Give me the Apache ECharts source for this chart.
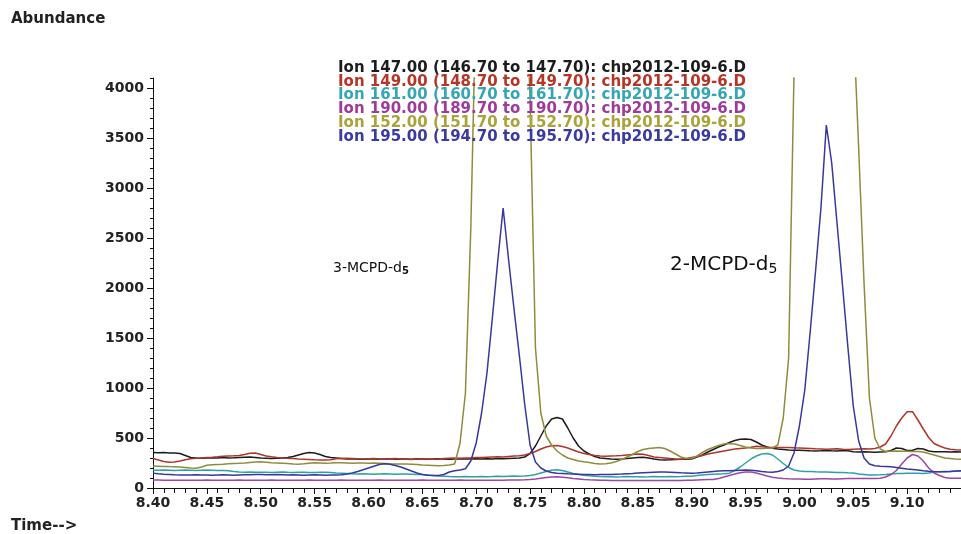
<!DOCTYPE html>
<html>
<head>
<meta charset="utf-8">
<script src="https://cdn.jsdelivr.net/npm/echarts@6/dist/echarts.min.js"></script>
<style>
html,body{margin:0;padding:0;background:#ffffff;}
#chart{width:961px;height:534px;}
</style>
</head>
<body>
<div id="chart"></div>
<script>
// Retention time (min) sampling grid
const TIME = [
8.400,8.405,8.410,8.415,8.420,8.425,8.430,8.435,8.440,8.445,
8.450,8.455,8.460,8.465,8.470,8.475,8.480,8.485,8.490,8.495,
8.500,8.505,8.510,8.515,8.520,8.525,8.530,8.535,8.540,8.545,
8.550,8.555,8.560,8.565,8.570,8.575,8.580,8.585,8.590,8.595,
8.600,8.605,8.610,8.615,8.620,8.625,8.630,8.635,8.640,8.645,
8.650,8.655,8.660,8.665,8.670,8.675,8.680,8.685,8.690,8.695,
8.700,8.705,8.710,8.715,8.720,8.725,8.730,8.735,8.740,8.745,
8.750,8.755,8.760,8.765,8.770,8.775,8.780,8.785,8.790,8.795,
8.800,8.805,8.810,8.815,8.820,8.825,8.830,8.835,8.840,8.845,
8.850,8.855,8.860,8.865,8.870,8.875,8.880,8.885,8.890,8.895,
8.900,8.905,8.910,8.915,8.920,8.925,8.930,8.935,8.940,8.945,
8.950,8.955,8.960,8.965,8.970,8.975,8.980,8.985,8.990,8.995,
9.000,9.005,9.010,9.015,9.020,9.025,9.030,9.035,9.040,9.045,
9.050,9.055,9.060,9.065,9.070,9.075,9.080,9.085,9.090,9.095,
9.100,9.105,9.110,9.115,9.120,9.125,9.130,9.135,9.140,9.145,
9.150
];

// Ion 147.00 (black)
const ION147 = [
355,352,355,350,350,345,325,305,300,298,
300,302,300,305,300,302,305,308,310,305,
300,298,295,298,300,305,315,330,345,355,
350,335,315,305,300,295,290,292,290,288,
290,292,288,290,292,288,290,290,288,292,
290,288,290,292,290,288,290,292,290,290,
292,290,292,290,295,292,295,298,300,310,
345,420,520,620,690,705,690,600,500,420,
370,340,315,300,295,290,288,290,295,300,
305,308,300,290,282,280,282,285,288,287,
290,310,330,360,385,410,430,455,475,488,
490,485,460,430,410,398,390,385,380,378,
378,375,372,370,372,375,372,370,375,372,
362,360,362,360,358,360,362,375,400,395,
375,378,395,390,370,363,362,363,360,362,
360
];

// Ion 149.00 (red)
const ION149 = [
295,280,265,258,260,270,282,292,298,300,
305,308,312,318,320,322,325,335,348,350,
335,320,312,305,300,298,295,290,288,285,
282,280,280,282,292,295,298,295,292,290,
292,295,290,288,292,295,290,288,285,290,
292,290,288,290,295,298,300,298,300,302,
305,305,308,310,312,310,315,320,322,330,
345,365,390,410,422,425,415,400,380,360,
345,335,325,320,318,320,322,325,330,335,
340,338,325,310,305,300,295,290,288,295,
305,315,325,340,350,360,370,380,390,395,
400,408,418,412,408,405,405,405,405,402,
400,398,395,392,390,388,390,392,388,385,
388,390,392,390,395,410,440,520,620,700,
763,763,680,590,505,445,420,400,388,382,
380
];

// Ion 161.00 (teal)
const ION161 = [
180,178,180,178,175,178,180,178,176,178,
180,178,176,175,172,165,160,158,160,158,
157,158,156,158,160,157,155,158,157,155,
156,158,157,155,150,148,145,142,140,142,
140,138,140,142,140,138,140,140,138,136,
135,130,125,120,118,115,113,112,115,113,
112,115,113,115,118,115,118,120,118,120,
125,135,150,165,178,182,175,160,145,135,
128,122,118,115,113,112,110,112,115,113,
112,110,112,115,113,112,115,113,115,118,
118,125,130,135,138,140,142,148,175,210,
250,290,320,340,345,330,290,245,205,180,
170,165,165,162,160,160,158,155,155,152,
150,140,135,130,130,132,135,140,145,145,
147,147,147,145,150,160,163,165,165,168,
170
];

// Ion 190.00 (purple)
const ION190 = [
80,79,78,78,78,77,77,78,78,78,
79,78,78,77,78,78,79,78,78,77,
78,78,79,78,78,77,78,78,78,79,
78,77,78,78,78,79,78,78,77,78,
78,78,79,78,78,77,78,78,78,78,
79,78,78,77,78,78,78,79,78,78,
78,78,78,78,78,78,79,80,80,82,
85,90,97,104,110,112,108,102,95,90,
85,82,80,78,77,76,75,75,75,75,
75,75,75,75,75,75,75,76,76,77,
78,80,82,84,86,95,110,125,140,152,
160,160,150,135,120,108,100,95,92,90,
90,88,88,90,92,92,90,90,92,94,
95,95,95,95,95,97,110,135,175,240,
300,335,320,270,200,150,125,105,98,97,
97
];

// Ion 152.00 (olive)
const ION152 = [
220,218,216,214,213,210,205,200,198,210,
228,232,235,238,242,245,247,250,255,260,
262,258,252,250,248,245,240,238,242,248,
252,250,248,250,253,252,250,248,250,250,
248,250,248,245,242,240,240,240,238,235,
230,228,225,222,225,230,240,450,950,2600,
5000,7000,9000,10000,10500,10000,9500,8500,7000,5300,
3900,1400,750,520,430,370,330,300,285,270,
262,255,245,240,242,250,265,285,310,335,
365,385,395,400,405,395,370,340,310,295,
295,320,355,385,405,425,440,445,440,425,
410,400,395,395,398,400,430,700,1300,4150,
7000,9000,10500,11000,11500,11000,10500,9500,8000,6000,
4700,3400,2050,900,500,390,365,368,370,368,
368,366,365,360,345,330,315,300,295,290,
287
];

// Ion 195.00 (blue)
const ION195 = [
147,142,138,135,132,130,130,130,132,130,
130,128,130,132,130,128,130,132,133,135,
135,133,132,135,133,130,132,130,128,130,
132,130,128,130,130,133,140,150,165,182,
200,218,235,242,238,225,210,190,170,150,
135,128,125,125,135,160,172,180,192,270,
450,750,1150,1700,2270,2800,2290,1800,1330,840,
430,260,200,170,155,148,145,142,140,138,
136,135,133,135,136,135,138,140,143,146,
150,153,156,158,160,160,158,155,152,150,
148,150,155,160,165,170,172,172,175,178,
180,178,172,165,160,158,165,180,220,350,
620,980,1560,2170,2800,3630,3250,2640,2030,1410,
820,470,300,240,222,218,215,212,205,198,
190,185,180,172,168,165,163,163,165,170,
172
];

const SERIES_NAMES = [
  'Ion 147.00 (146.70 to 147.70): chp2012-109-6.D',
  'Ion 149.00 (148.70 to 149.70): chp2012-109-6.D',
  'Ion 161.00 (160.70 to 161.70): chp2012-109-6.D',
  'Ion 190.00 (189.70 to 190.70): chp2012-109-6.D',
  'Ion 152.00 (151.70 to 152.70): chp2012-109-6.D',
  'Ion 195.00 (194.70 to 195.70): chp2012-109-6.D'
];
const SERIES_VALUES = [ION147, ION149, ION161, ION190, ION152, ION195];
const LINE_COLORS = ['#1c1c1c', '#b0342a', '#2aa3a6', '#9c46a8', '#8e8c3c', '#3737a0'];
const TEXT_COLORS = ['#1c1c1c', '#b83424', '#35a6b4', '#9e3a9e', '#aaa23a', '#3a3aa4'];

const X_LABELS = [8.40,8.45,8.50,8.55,8.60,8.65,8.70,8.75,8.80,8.85,8.90,8.95,9.00,9.05,9.10];
const Y_LABELS = [0,500,1000,1500,2000,2500,3000,3500,4000];
const Y_MINOR = [0,100,200,300,400,500,600,700,800,900,1000,1100,1200,1300,1400,1500,1600,1700,1800,1900,2000,
  2100,2200,2300,2400,2500,2600,2700,2800,2900,3000,3100,3200,3300,3400,3500,3600,3700,3800,3900,4000,4100];

const FONT = 'DejaVu Sans';
const chart = echarts.init(document.getElementById('chart'), null, {renderer: 'canvas'});

const series = SERIES_NAMES.map(function (name, k) {
  return {
    name: name,
    type: 'line',
    showSymbol: false,
    symbol: 'none',
    clip: true,
    animation: false,
    lineStyle: {color: LINE_COLORS[k], width: 1.5},
    itemStyle: {color: LINE_COLORS[k]},
    data: TIME.map(function (t, i) { return [t, SERIES_VALUES[k][i]]; })
  };
});

const option = {
  animation: false,
  backgroundColor: '#ffffff',
  textStyle: {fontFamily: FONT},
  grid: {left: 153, right: 0, top: 78, bottom: 46, containLabel: false},
  legend: {
    orient: 'vertical',
    left: 333,
    top: 60.5,
    padding: 0,
    itemGap: -1.2,
    itemWidth: 0,
    itemHeight: 13.6,
    icon: 'none',
    selectedMode: false,
    textStyle: {fontFamily: FONT, fontSize: 15, fontWeight: 'bold', lineHeight: 13.6},
    data: SERIES_NAMES.map(function (n, k) {
      return {name: n, icon: 'none', textStyle: {color: TEXT_COLORS[k]}};
    })
  },
  xAxis: {
    type: 'value',
    min: 8.40,
    max: 9.15,
    interval: 0.05,
    axisLine: {show: true, lineStyle: {color: '#111', width: 1}},
    axisTick: {show: true, length: 6, lineStyle: {color: '#111'}},
    minorTick: {show: true, splitNumber: 5, length: 5, lineStyle: {color: '#111'}},
    splitLine: {show: false},
    axisLabel: {
      customValues: X_LABELS,
      margin: 8,
      color: '#222',
      fontFamily: FONT,
      fontSize: 14,
      fontWeight: 'bold',
      formatter: function (v) { return Number(v).toFixed(2); }
    }
  },
  yAxis: [{
    type: 'value',
    min: 0,
    max: 4100,
    position: 'left',
    axisLine: {show: true, lineStyle: {color: '#111', width: 1}},
    axisTick: {show: true, customValues: Y_LABELS, length: 6, lineStyle: {color: '#111'}},
    splitLine: {show: false},
    axisLabel: {
      customValues: Y_LABELS,
      margin: 9,
      color: '#222',
      fontFamily: FONT,
      fontSize: 14,
      fontWeight: 'bold',
      formatter: function (v) { return String(Math.round(v)); }
    }
  }, {
    type: 'value',
    min: 0,
    max: 4100,
    position: 'left',
    offset: 0,
    axisLine: {show: false},
    axisTick: {show: true, customValues: Y_MINOR, length: 3, lineStyle: {color: '#111'}},
    splitLine: {show: false},
    axisLabel: {show: false}
  }],
  graphic: [
    {type: 'text', left: 11, top: 12, style: {text: 'Abundance', font: 'bold 15px "DejaVu Sans"', fill: '#222'}},
    {type: 'text', left: 11, top: 519, style: {text: 'Time-->', font: 'bold 15px "DejaVu Sans"', fill: '#222'}},
    {type: 'text', left: 333, top: 261, style: {
      text: '{m|3-MCPD-d}{s|5}',
      rich: {
        m: {fontFamily: FONT, fontSize: 14, fill: '#111'},
        s: {fontFamily: FONT, fontSize: 10, fontWeight: 'bold', fill: '#111', padding: [7, 0, 0, 0]}
      }
    }},
    {type: 'text', left: 670, top: 255, style: {
      text: '{m|2-MCPD-d}{s|5}',
      rich: {
        m: {fontFamily: FONT, fontSize: 20, fill: '#111'},
        s: {fontFamily: FONT, fontSize: 14, fill: '#111', padding: [9, 0, 0, 0]}
      }
    }}
  ],
  series: series
};

chart.setOption(option);
</script>
</body>
</html>
